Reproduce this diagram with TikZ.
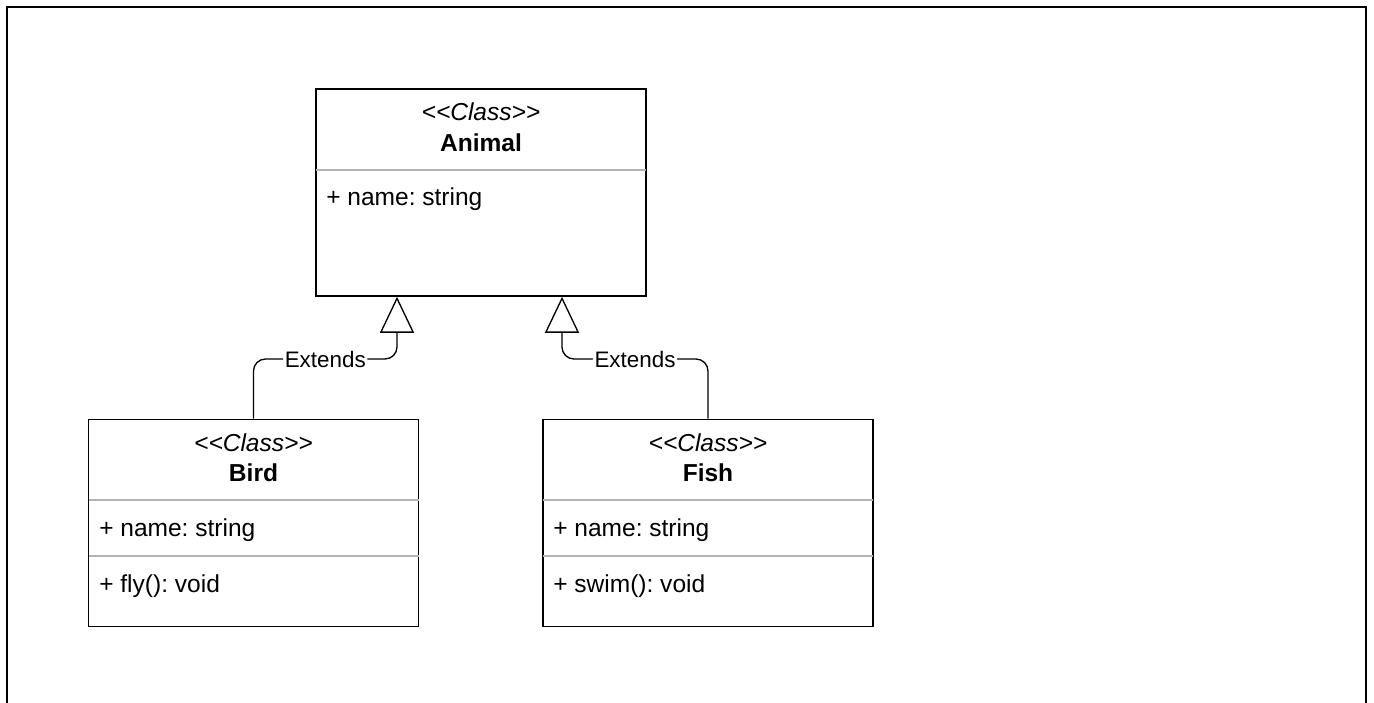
\documentclass[tikz,border=0pt]{standalone}
\usepackage{fontspec}
\setmainfont{Liberation Sans}
\usepackage{xcolor}
\usetikzlibrary{arrows.meta}

\definecolor{sepgray}{HTML}{B3B3B3}
\frenchspacing

\tikzset{
  classbox/.style={draw, line width=1.2pt, minimum width=247.5pt, minimum height=155.25pt, inner sep=0pt},
  stereo/.style={font=\fontsize{18.4}{22}\selectfont\itshape, anchor=base, inner sep=0pt},
  cname/.style={font=\fontsize{18.4}{22}\selectfont\bfseries, anchor=base, inner sep=0pt},
  member/.style={font=\fontsize{18.4}{22}\selectfont, anchor=base west, inner sep=0pt},
  sep/.style={draw=sepgray, line width=1pt, shorten <=.6pt, shorten >=.6pt},
  elabel/.style={fill=white, font=\fontsize{16.8}{20}\selectfont, inner sep=1.2pt},
  extends/.style={line width=1pt, rounded corners=9pt, -{Triangle[open, length=27pt, width=25.5pt]}},
  frame/.style={line width=1.5pt}
}

\newcommand{\stereotype}{<\kern0pt<Class>\kern0pt>}

\begin{document}
\begin{tikzpicture}[x=0.75pt, y=-0.75pt]
\useasboundingbox (0,0) rectangle (1374,703);
\draw[frame] (7,712) -- (7,7) -- (1366,7) -- (1366,712);

% Animal
\node[classbox] (animal) at (481,192.5) {};
\node[stereo] (animalst) at (481,120) {\stereotype};
\node[cname] (animalname) at (481,151) {Animal};
\draw[sep] (animal.west |- 0,170) -- (animal.east |- 0,170);
\node[member] (animalattr) at (326,205) {+ name: string};

% Bird
\node[classbox] (bird) at (253.5,523) {};
\node[stereo] (birdst) at (253.5,451) {\stereotype};
\node[cname] (birdname) at (253.5,481) {Bird};
\draw[sep] (bird.west |- 0,500) -- (bird.east |- 0,500);
\node[member] (birdattr) at (99,536) {+ name: string};
\draw[sep] (bird.west |- 0,556) -- (bird.east |- 0,556);
\node[member] (birdop) at (99,592) {+ fly(): void};

% Fish
\node[classbox] (fish) at (708,523) {};
\node[stereo] (fishst) at (708,451) {\stereotype};
\node[cname] (fishname) at (708,481) {Fish};
\draw[sep] (fish.west |- 0,500) -- (fish.east |- 0,500);
\node[member] (fishattr) at (553,536) {+ name: string};
\draw[sep] (fish.west |- 0,556) -- (fish.east |- 0,556);
\node[member] (fishop) at (553,592) {+ swim(): void};

% generalisations
\coordinate (lbend) at (397,359);
\coordinate (rbend) at (562,359);
\draw[extends] (bird.north) |- node[elabel, pos=.75] (lext) {Extends} (lbend) -- (animal.south -| lbend);
\draw[extends] (fish.north) |- node[elabel, pos=.75] (rext) {Extends} (rbend) -- (animal.south -| rbend);
\end{tikzpicture}
\end{document}
